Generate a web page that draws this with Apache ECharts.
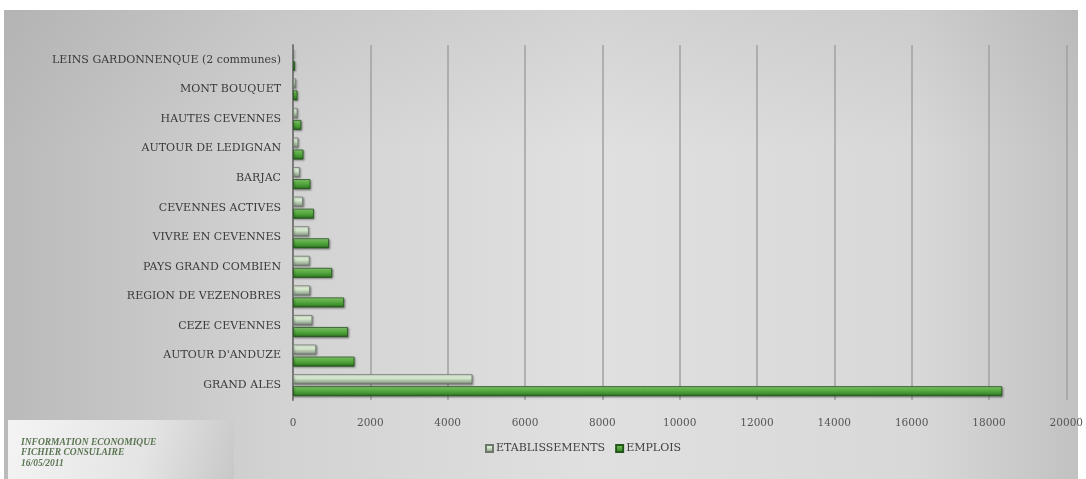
<!DOCTYPE html>
<html>
<head>
<meta charset="utf-8">
<script src="https://cdn.jsdelivr.net/npm/echarts@6/dist/echarts.min.js"></script>
<style>
  html, body { margin: 0; padding: 0; background: #ffffff; }
  #chart { width: 1086px; height: 479px; }
</style>
</head>
<body>
<div id="chart"></div>
<script>
// Communautés de communes, listed bottom to top on the axis
const categories = [
  'GRAND ALES',
  "AUTOUR D'ANDUZE",
  'CEZE CEVENNES',
  'REGION DE VEZENOBRES',
  'PAYS GRAND COMBIEN',
  'VIVRE EN CEVENNES',
  'CEVENNES ACTIVES',
  'BARJAC',
  'AUTOUR DE LEDIGNAN',
  'HAUTES CEVENNES',
  'MONT BOUQUET',
  'LEINS GARDONNENQUE (2 communes)'
];
const etablissements = [4640, 600, 500, 440, 430, 410, 260, 175, 135, 115, 70, 25];
const emplois = [18340, 1590, 1420, 1320, 1010, 930, 540, 450, 270, 215, 115, 50];
const seriesNames = ['ETABLISSEMENTS', 'EMPLOIS'];
const footerLines = ['INFORMATION ECONOMIQUE', 'FICHIER CONSULAIRE', '16/05/2011'];

const serif = '"DejaVu Serif", "Liberation Serif", serif';

const chart = echarts.init(document.getElementById('chart'), null, { renderer: 'canvas' });

const greenFill = new echarts.graphic.LinearGradient(0, 0, 0, 1, [
  { offset: 0, color: '#a4de90' },
  { offset: 0.3, color: '#62b64a' },
  { offset: 0.75, color: '#3f8f2e' },
  { offset: 1, color: '#23591b' }
]);
const paleFill = new echarts.graphic.LinearGradient(0, 0, 0, 1, [
  { offset: 0, color: '#f4fcf0' },
  { offset: 0.4, color: '#d3e9ca' },
  { offset: 0.8, color: '#9aaa96' },
  { offset: 1, color: '#6f786d' }
]);

chart.setOption({
  animation: false,
  graphic: [
    {
      type: 'rect',
      z: -10,
      silent: true,
      shape: { x: 4, y: 10, width: 1074, height: 469 },
      style: {
        fill: new echarts.graphic.LinearGradient(0, 0, 1, 0, [
          { offset: 0, color: '#bababa' },
          { offset: 0.25, color: '#d2d2d2' },
          { offset: 0.55, color: '#e0e0e0' },
          { offset: 0.85, color: '#d8d8d8' },
          { offset: 1, color: '#c2c2c2' }
        ])
      }
    },
    {
      type: 'rect',
      z: -9,
      silent: true,
      shape: { x: 4, y: 10, width: 1074, height: 469 },
      style: {
        fill: new echarts.graphic.LinearGradient(0, 0, 0, 1, [
          { offset: 0, color: 'rgba(150,150,150,0.18)' },
          { offset: 0.3, color: 'rgba(150,150,150,0)' },
          { offset: 1, color: 'rgba(150,150,150,0)' }
        ])
      }
    },
    {
      type: 'rect',
      z: -5,
      silent: true,
      shape: { x: 8, y: 420, width: 226, height: 59 },
      style: {
        fill: new echarts.graphic.LinearGradient(0, 0, 1, 1, [
          { offset: 0, color: '#f4f4f4' },
          { offset: 0.6, color: '#e4e4e4' },
          { offset: 1, color: '#c8c8c8' }
        ])
      }
    },
    {
      type: 'text',
      z: 10,
      left: 21,
      top: 437,
      style: {
        text: footerLines.join('\n'),
        fill: '#5b7553',
        font: 'italic bold 9.5px "Liberation Serif", serif',
        lineHeight: 10.5
      }
    }
  ],
  grid: { left: 293, right: 17, top: 45, bottom: 79, containLabel: false },
  legend: {
    data: seriesNames,
    bottom: 20,
    left: 480,
    itemWidth: 7,
    itemHeight: 7,
    itemGap: 10,
    icon: 'rect',
    textStyle: { fontFamily: serif, fontSize: 11, color: '#404040', padding: [0, 0, 0, -2] }
  },
  xAxis: {
    type: 'value',
    min: 0,
    max: 20000,
    interval: 2000,
    axisLine: { show: false },
    axisTick: { show: false },
    axisLabel: {
      fontFamily: serif,
      fontSize: 10.5,
      color: '#555555',
      margin: 18,
      formatter: (v) => String(v)
    },
    splitLine: { show: true, lineStyle: { color: '#a0a0a0', width: 1.5 } }
  },
  yAxis: {
    type: 'category',
    data: categories,
    axisLine: { show: true, lineStyle: { color: '#7a7a7a', width: 2 } },
    axisTick: { show: false },
    axisLabel: { fontFamily: serif, fontSize: 11, color: '#3a3a3a', margin: 12 }
  },
  series: [
    {
      name: seriesNames[0],
      type: 'bar',
      data: etablissements,
      barWidth: 10,
      barGap: '20%',
      itemStyle: {
        color: paleFill,
        borderColor: '#6d776b',
        borderWidth: 0.8,
        shadowColor: 'rgba(0,0,0,0.35)',
        shadowBlur: 2,
        shadowOffsetX: 1,
        shadowOffsetY: 1
      }
    },
    {
      name: seriesNames[1],
      type: 'bar',
      data: emplois,
      barWidth: 10,
      barGap: '20%',
      itemStyle: {
        color: greenFill,
        borderColor: '#24561c',
        borderWidth: 0.8,
        shadowColor: 'rgba(0,0,0,0.35)',
        shadowBlur: 2,
        shadowOffsetX: 1,
        shadowOffsetY: 1
      }
    }
  ]
});
</script>
</body>
</html>
